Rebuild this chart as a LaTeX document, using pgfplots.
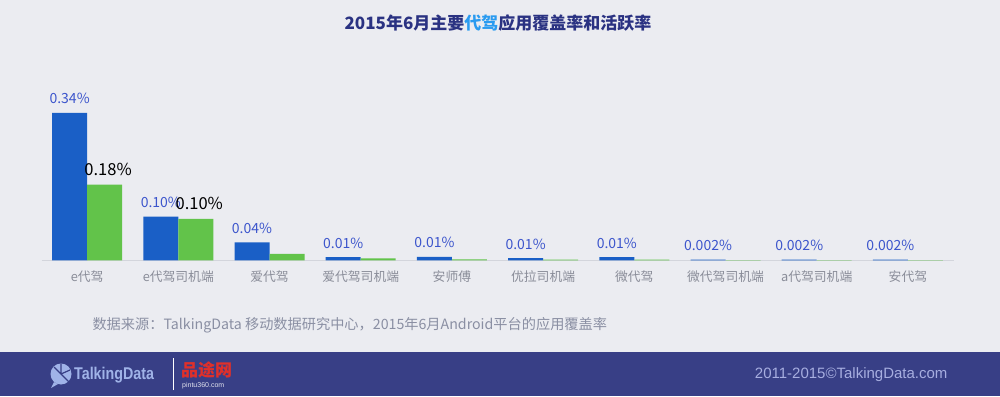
\documentclass[border=0pt]{standalone}
\usepackage{pgfplots}
\pgfplotsset{compat=1.18}
\usepackage{pgfplotstable}
\usepackage{fontspec}
\setmainfont{Liberation Sans}
\newfontfamily\cjk{Noto Sans CJK SC}
\newfontfamily\arial{Liberation Sans}
\definecolor{bg}{HTML}{EBECF1}
\definecolor{footer}{HTML}{383F86}
\definecolor{barblue}{HTML}{1A5FC6}
\definecolor{bargreen}{HTML}{62C34A}
\definecolor{labblue}{HTML}{3C55CC}
\definecolor{titlenavy}{HTML}{2A3282}
\definecolor{titlelight}{HTML}{2A9BF0}
\definecolor{tickgray}{HTML}{8A8D99}
\definecolor{srcgray}{HTML}{8A8FA3}
\definecolor{axisgray}{HTML}{D3D5DC}
\definecolor{foottext}{HTML}{A7AEE0}
\definecolor{logoblue}{HTML}{A0B3E8}
\definecolor{logored}{HTML}{E0302A}

\pgfplotstableread{
x y lab
0 0.340 0.34\%
1 0.101 0.10\%
2 0.042 0.04\%
3 0.0077 0.01\%
4 0.0085 0.01\%
5 0.0055 0.01\%
6 0.0078 0.01\%
7 0.0022 0.002\%
8 0.0020 0.002\%
9 0.0020 0.002\%
}\covtab

\pgfplotstableread{
x y lab
0 0.175 0.18\%
1 0.096 0.10\%
2 0.015 {}
3 0.0050 {}
4 0.0025 {}
5 0.0020 {}
6 0.0020 {}
7 0.0010 {}
8 0.0010 {}
9 0.0010 {}
}\acttab

\begin{document}
\begin{tikzpicture}[x=1pt,y=1pt]
\useasboundingbox (0,0) rectangle (1000,396);
\fill[bg] (0,44) rectangle (1000,396);
\fill[footer] (0,0) rectangle (1000,44);

% title
\node[font=\cjk\bfseries\fontsize{17}{17}\selectfont, text=titlenavy] at (498,373)
  {2015年6月主要{\color{titlelight}代驾}应用覆盖率和活跃率};

\begin{axis}[
  at={(87.1pt,135.5pt)}, anchor=origin,
  scale only axis, width=912pt, height=173.6pt,
  xmin=-0.5, xmax=9.5, ymin=0, ymax=0.4,
  ybar=0pt, bar width=35pt,
  axis lines=left,
  x axis line style={-, draw=axisgray, line width=1.2pt},
  y axis line style={draw=none},
  ytick=\empty,
  xtick={0,1,2,3,4,5,6,7,8,9},
  xticklabels={e代驾,e代驾司机端,爱代驾,爱代驾司机端,安师傅,优拉司机端,微代驾,微代驾司机端,a代驾司机端,安代驾},
  major tick length=0pt,
  xticklabel style={font=\cjk\fontsize{12.8}{12.8}\selectfont, text=tickgray, anchor=base, yshift=-21pt},
  clip=false,
  point meta=explicit symbolic,
]
\addplot[fill=barblue, draw=none,
  nodes near coords, nodes near coords align={vertical},
  every node near coord/.append style={font=\cjk\fontsize{14}{14}\selectfont, text=labblue, anchor=base, inner sep=0pt, yshift=9pt}]
  table[x=x, y=y, meta=lab] {\covtab};
\addplot[fill=bargreen, draw=none,
  nodes near coords, nodes near coords align={vertical},
  every node near coord/.append style={font=\cjk\fontsize{16.5}{16.5}\selectfont, text=black, anchor=base, inner sep=0pt, yshift=9pt, xshift=3.5pt}]
  table[x=x, y=y, meta=lab] {\acttab};
\end{axis}

% source
\node[anchor=west, font=\cjk\fontsize{14.2}{14.2}\selectfont, text=srcgray] at (89,71)
  {数据来源：TalkingData 移动数据研究中心，2015年6月Android平台的应用覆盖率};

% footer
\node[anchor=east, font=\arial\fontsize{15}{15}\selectfont, text=foottext] at (951,21)
  {2011-2015©TalkingData.com};
\fill[logoblue] (61,22) circle (10.5);
\fill[logoblue] (54,14) -- (51,8) -- (58,12) -- cycle;
\draw[footer, line width=1.2pt] (61,22) -- (61,32.5) (61,22) -- (70,26) (61,22) -- (69,14) (61,22) -- (54,29);
\node[anchor=west, font=\arial\bfseries\fontsize{17}{17}\selectfont, text=logoblue, xscale=0.84, inner sep=0pt] at (74,21) {TalkingData};
\draw[white, line width=1pt] (173,6) -- (173,38);
\node[anchor=west, font=\cjk\bfseries\fontsize{17}{17}\selectfont, text=logored, inner sep=0pt] at (181,26) {品途网};
\node[anchor=west, font=\arial\fontsize{7}{7}\selectfont, text=white!85!footer, inner sep=0pt] at (182,10) {pintu360.com};
\end{tikzpicture}
\end{document}
